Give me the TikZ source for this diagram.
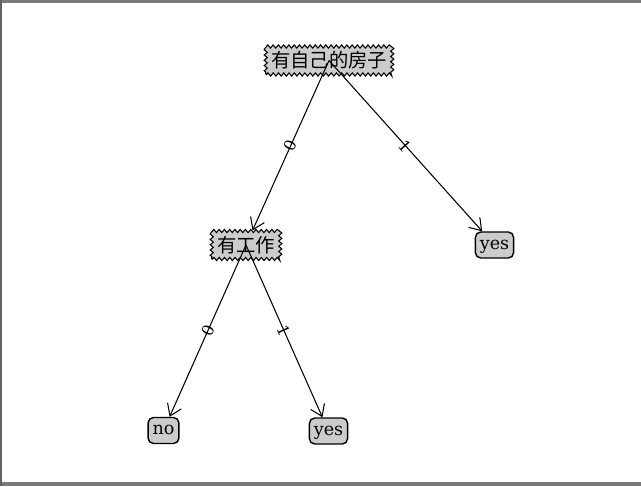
\documentclass[tikz,border=0pt]{standalone}
\usepackage{fontspec}
\setmainfont{DejaVu Serif}
\newfontfamily\cjk{Noto Sans CJK SC}
\usetikzlibrary{arrows.meta,decorations.pathmorphing}
\definecolor{boite}{HTML}{CCCCCC}
\definecolor{cadre}{HTML}{7A7A7A}

\tikzset{
  decision/.style={draw, fill=boite, line width=0.6pt, inner xsep=3pt, inner ysep=0pt,
    minimum height=0.56cm, font=\cjk\fontsize{11}{12}\selectfont,
    decorate, decoration={zigzag, segment length=3pt, amplitude=0.9pt,
      pre=lineto, pre length=0.5pt, post=lineto, post length=0.5pt}},
  feuille/.style={draw, fill=boite, line width=0.8pt, rounded corners=3pt, inner xsep=2.5pt,
    inner ysep=0pt, minimum height=0.52cm, text height=5.5pt, text depth=0.5pt,
    font=\fontsize{10}{12}\selectfont},
  fleche/.style={line width=0.6pt, -{Straight Barb[length=2.2mm, width=3mm]}},
  valeur/.style={midway, sloped, inner sep=0pt, font=\fontsize{9}{10}\selectfont}
}

\begin{document}
\begin{tikzpicture}[x=0.02cm, y=-0.02cm]
% cadre de la fenetre
\useasboundingbox (0,0) rectangle (641,486) ;
\fill[white] (0,0) rectangle (641,486) ;
\fill[cadre] (0,0) rectangle (641,3) ;
\fill[cadre] (0,482) rectangle (641,486) ;
\fill[cadre!80!black] (0,0) rectangle (1.5,486) ;
% noeuds
\node[decision] (maison) at (329,60.5) {有自己的房子} ;
\node[decision] (travail) at (246,245) {有工作} ;
\node[feuille] (oui1) at (494.5,245) {yes} ;
\node[feuille] (non) at (163.5,430.5) {no} ;
\node[feuille] (oui2) at (328.5,431) {yes} ;
% branches
\draw[fleche] (maison.center) -- (travail) node[valeur]{0} ;
\draw[fleche] (maison.center) -- (oui1) node[valeur]{1} ;
\draw[fleche] (travail.center) -- (non) node[valeur]{0} ;
\draw[fleche] (travail.center) -- (oui2) node[valeur]{1} ;
\end{tikzpicture}
\end{document}
